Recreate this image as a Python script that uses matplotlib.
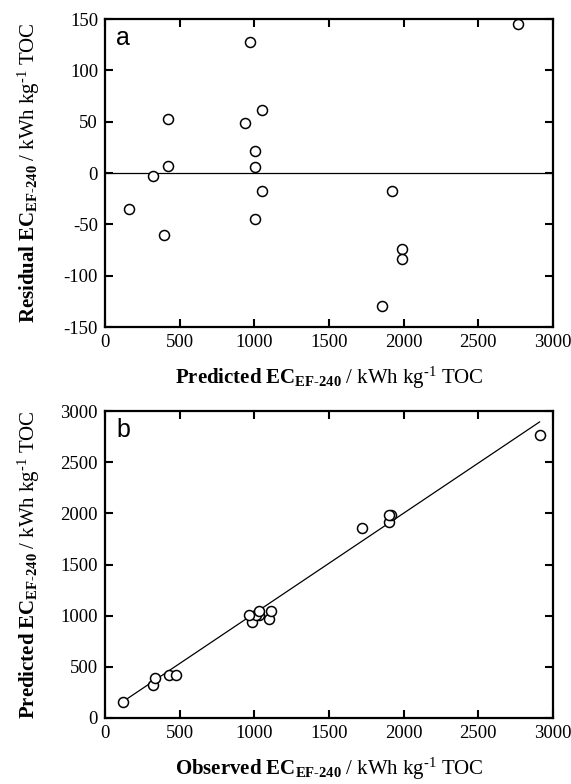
import matplotlib
matplotlib.use("Agg")
import matplotlib.pyplot as plt
import numpy as np

# Data
predicted = [158, 324, 420, 424, 393, 937, 968, 1049, 1007, 1007, 1049, 1007,
             1920, 1988, 1988, 1854, 2766]
residual = [-35, -3, 7, 53, -60, 49, 128, 61, 21, 6, -18, -45,
            -18, -74, -84, -130, 145]
observed = [123, 321, 427, 477, 333, 986, 1096, 1110, 1028, 1013, 1031, 962,
            1902, 1914, 1904, 1724, 2911]
fit_x = [125, 2910]
fit_y = [165, 2893]
xticks = [0, 500, 1000, 1500, 2000, 2500, 3000]
yticks_a = [-150, -100, -50, 0, 50, 100, 150]
yticks_b = [0, 500, 1000, 1500, 2000, 2500, 3000]

plt.rcParams['font.family'] = ['Liberation Serif', 'DejaVu Serif']
plt.rcParams['mathtext.fontset'] = 'custom'
plt.rcParams['mathtext.rm'] = 'Liberation Serif'
plt.rcParams['mathtext.it'] = 'Liberation Serif:italic'
plt.rcParams['mathtext.bf'] = 'Liberation Serif:bold'
plt.rcParams['axes.unicode_minus'] = False

W, H = 571, 784
fig = plt.figure(figsize=(W / 100, H / 100), dpi=100)
# axes boxes in pixels: left 105, right 553; a: 19-327, b: 411-718
ax1 = fig.add_axes([105 / W, 1 - 327 / H, 448 / W, 308 / H])
ax2 = fig.add_axes([105 / W, 1 - 718 / H, 448 / W, 307 / H])

mk = dict(marker='o', ls='none', ms=7.2, mfc='white', mec='black', mew=1.1)

ax1.axhline(0, color='black', lw=0.9)
ax1.plot(predicted, residual, **mk)
ax1.set_xlim(0, 3000)
ax1.set_ylim(-150, 150)
ax1.set_xticks(xticks)
ax1.set_yticks(yticks_a)

ax2.plot(fit_x, fit_y, color='black', lw=0.9)
ax2.plot(observed, predicted, **mk)
ax2.set_xlim(0, 3000)
ax2.set_ylim(0, 3000)
ax2.set_xticks(xticks)
ax2.set_yticks(yticks_b)

sub = '_{\\mathbf{EF\u2010240}}'
tail = '\\mathrm{\\ /\\ kWh\\ kg^{\u20101}\\ TOC}$'
ax1.set_xlabel(r'$\mathbf{Predicted\ EC}' + sub + tail, fontsize=15)
ax1.set_ylabel(r'$\mathbf{Residual\ EC}' + sub + tail, fontsize=15)
ax2.set_xlabel(r'$\mathbf{Observed\ EC}' + sub + tail, fontsize=15)
ax2.set_ylabel(r'$\mathbf{Predicted\ EC}' + sub + tail, fontsize=15)

for ax, letter in ((ax1, 'a'), (ax2, 'b')):
    for s in ax.spines.values():
        s.set_linewidth(1.6)
    ax.tick_params(direction='in', top=True, right=True, length=6, width=1.5,
                   labelsize=13.5, pad=5)
    ax.yaxis.set_label_coords((42 - 105) / 448, 0.5)
    ax.text(0.025, 0.915, letter, transform=ax.transAxes, fontsize=18,
            family='Liberation Sans', va='baseline', ha='left')

ax1.xaxis.set_label_coords(0.5, -(365 - 327) / 308)
ax2.xaxis.set_label_coords(0.5, -(756 - 718) / 307)

fig.savefig('out.png', dpi=100)
